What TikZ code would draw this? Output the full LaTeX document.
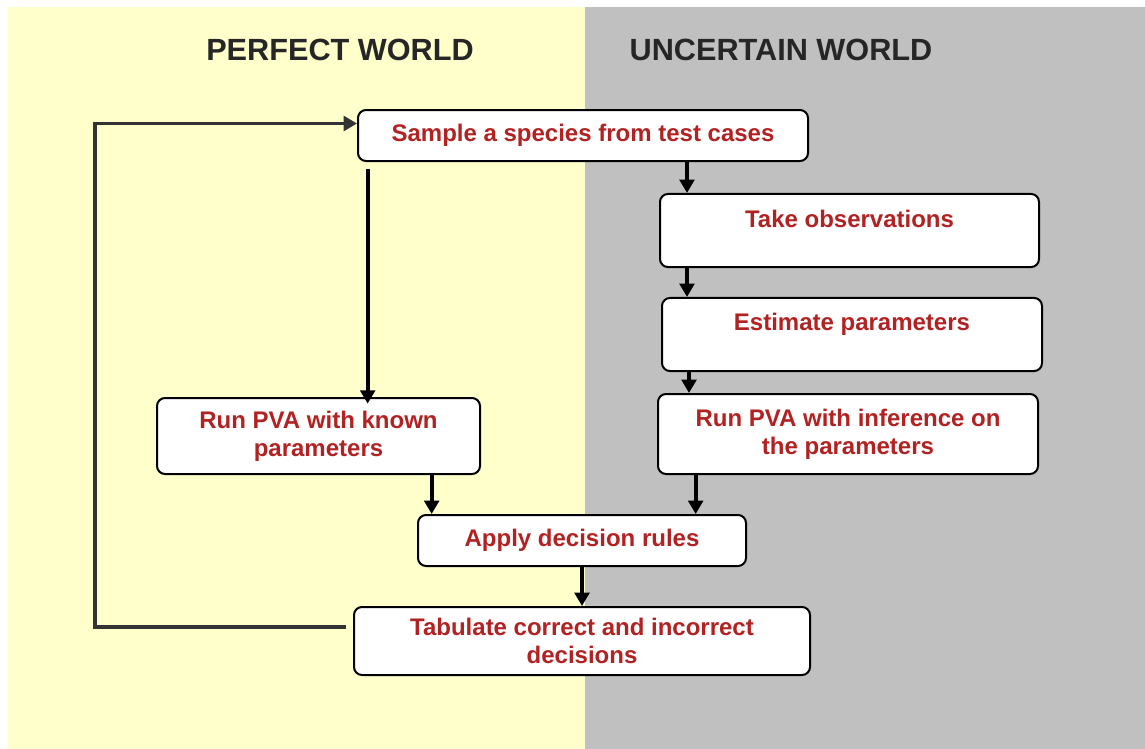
\documentclass[tikz,border=0pt]{standalone}
\usepackage{fontspec}
\setmainfont{Liberation Sans}
\usetikzlibrary{arrows.meta}

\definecolor{perfectbg}{HTML}{FFFFCC}
\definecolor{uncertainbg}{HTML}{C0C0C0}
\definecolor{stagered}{HTML}{B22222}
\definecolor{loopgray}{HTML}{333333}
\definecolor{titlegray}{HTML}{262626}

\tikzset{
  stage/.style={draw=black, fill=white, line width=1.5pt, rounded corners=6pt,
    inner sep=0pt, align=center, text=stagered,
    font=\fontsize{18}{21}\selectfont\bfseries},
  world/.style={text=titlegray, font=\fontsize{23}{27}\selectfont\bfseries},
  flow/.style={line width=2.8pt, -{Triangle[length=10pt,width=11pt]}},
  loopline/.style={line width=2.6pt, draw=loopgray, -{Triangle[length=10pt,width=11pt]}}
}

\begin{document}
\begin{tikzpicture}[x=0.75pt,y=-0.75pt]
\useasboundingbox (0,0) rectangle (1145,749);
\fill[perfectbg] (8,7) rectangle (585,749);
\fill[uncertainbg] (585,7) rectangle (1145,749);

\node[world] (perfect) at (340,50) {PERFECT WORLD};
\node[world] (uncertain) at (781,50) {UNCERTAIN WORLD};

\node[stage, minimum width=337.5pt, minimum height=38.25pt] (sample) at (583,135.5) {Sample a species from test cases};
\node[stage, minimum width=284.25pt, text height=25.2pt, text depth=29.6pt] (take) at (849.5,230.5) {Take observations};
\node[stage, minimum width=285pt, text height=24.5pt, text depth=30.3pt] (estimate) at (852,334.5) {Estimate parameters};
\node[stage, minimum width=285pt, minimum height=60pt] (runinf) at (848,434) {Run PVA with inference on\\the parameters};
\node[stage, minimum width=242.25pt, minimum height=57pt] (runknown) at (318.5,436) {Run PVA with known\\parameters};
\node[stage, minimum width=246pt, minimum height=38.25pt] (apply) at (582,540.5) {Apply decision rules};
\node[stage, minimum width=342pt, minimum height=51pt] (tabulate) at (582,641) {Tabulate correct and incorrect\\decisions};

% uncertain side
\draw[flow] ([xshift=21pt]take.north west |- sample.south) -- ([xshift=21pt]take.north west);
\draw[flow] ([xshift=21pt]take.south west) -- ([xshift=21pt]take.south west |- estimate.north);
\draw[flow] ([xshift=21pt]estimate.south west) -- ([xshift=21pt]estimate.south west |- runinf.north);
\draw[flow] ([xshift=29pt]runinf.south west) -- ([xshift=29pt]runinf.south west |- apply.north);
% perfect side
\draw[flow] ([shift={(8pt,-5pt)}]sample.south west) -- ([shift={(8pt,-5pt)}]sample.south west |- runknown.north);
\draw[flow] ([xshift=11pt]apply.north west |- runknown.south) -- ([xshift=11pt]apply.north west);
\draw[flow] (apply.south) -- (tabulate.north);

% back to the start
\coordinate (back) at (95,627);
\draw[loopline] ([shift={(-5pt,10.5pt)}]tabulate.west) -- (back) |- ([yshift=9pt]sample.west);
\end{tikzpicture}
\end{document}
